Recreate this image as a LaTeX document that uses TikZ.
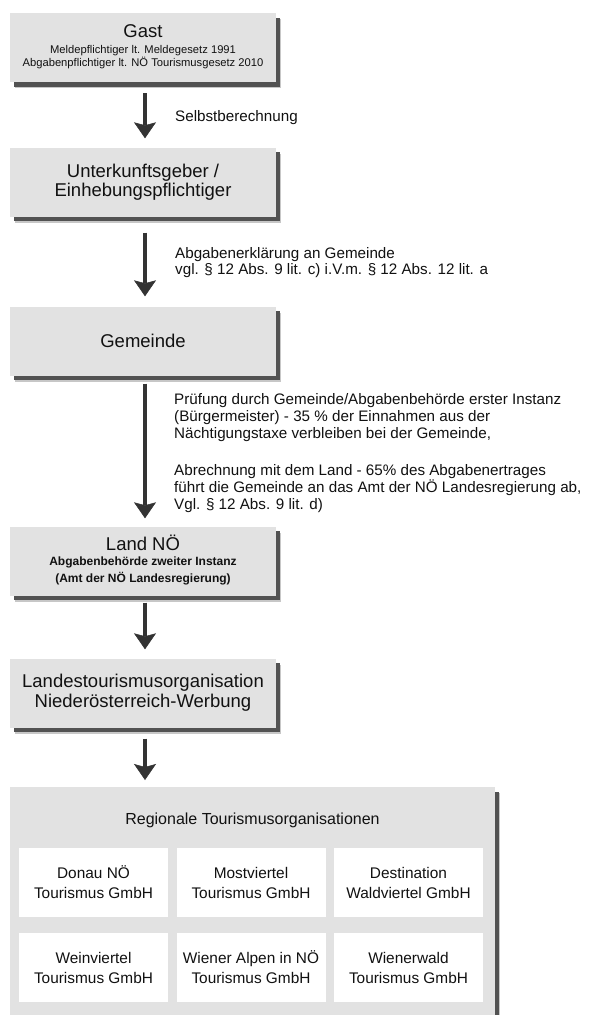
\documentclass[tikz,border=0pt]{standalone}
\usepackage{fontspec}
\setmainfont{Liberation Sans}
\usetikzlibrary{arrows.meta,shadows}
\definecolor{boxgray}{HTML}{E2E2E2}
\definecolor{arrowgray}{HTML}{333333}
\definecolor{txt}{HTML}{111111}
\begin{document}
\begin{tikzpicture}[x=1pt,y=-1pt,
  box/.style={rectangle, fill=boxgray, minimum width=266pt, minimum height=69pt,
    text width=266pt, inner sep=0pt, align=flush center, text=txt,
    general shadow={fill=black!22, shadow xshift=5pt, shadow yshift=-6pt},
    general shadow={fill=black!68, shadow xshift=4pt, shadow yshift=-4.5pt}},
  title/.style={font=\fontsize{18.5}{19.5}\selectfont},
  flow/.style={draw=arrowgray, line width=4pt,
    -{Stealth[length=16pt,width=22pt,inset=3pt,line width=0.5pt]}},
  lab/.style={anchor=base west, inner sep=0pt, text=txt, font=\fontsize{15.2}{17}\selectfont},
  rto/.style={rectangle, fill=white, minimum width=149pt, minimum height=69pt,
    text width=149pt, inner sep=0pt, align=flush center, text=txt,
    font=\fontsize{15.4}{20}\selectfont}
]
\useasboundingbox (0,0) rectangle (596,1015);
\clip (0,0) rectangle (596,1015);
\fill[white] (0,0) rectangle (596,1015);

% main boxes
\node[box,title] (gast) at (143,47.5) {Gast\\[-3.9pt]{\fontsize{11.2}{12.7}\selectfont\begin{tabular}[t]{@{}c@{}}Meldepflichtiger lt. Meldegesetz 1991\\Abgabenpflichtiger lt. NÖ Tourismusgesetz 2010\end{tabular}}};
\node[box,title] (unter) at (143,182) {Unterkunftsgeber /\\Einhebungspflichtiger};
\node[box,title] (gem) at (143,341) {Gemeinde};
\node[box,title] (land) at (143,561) {Land NÖ\\[-4.5pt]{\fontsize{12}{16.6}\selectfont\bfseries\begin{tabular}[t]{@{}c@{}}Abgabenbehörde zweiter Instanz\\(Amt der NÖ Landesregierung)\end{tabular}}};
\node[box,font=\fontsize{18.5}{20}\selectfont] (lto) at (143,693) {Landestourismusorganisation\\ Niederösterreich-Werbung};

% regional container
\node[box, minimum width=485pt, text width=485pt, minimum height=240pt, anchor=north] (reg) at (252.5,787) {};
\node[inner sep=0pt, text=txt, font=\fontsize{16}{18}\selectfont] (regt) at (252.5,820) {Regionale Tourismusorganisationen};
\node[rto] (r1) at (93.5,882.5) {Donau NÖ\\Tourismus GmbH};
\node[rto] (r2) at (251,882.5) {Mostviertel\\Tourismus GmbH};
\node[rto] (r3) at (408.5,882.5) {Destination\\Waldviertel GmbH};
\node[rto] (r4) at (93.5,967.5) {Weinviertel\\Tourismus GmbH};
\node[rto] (r5) at (251,967.5) {Wiener Alpen in NÖ\\Tourismus GmbH};
\node[rto] (r6) at (408.5,967.5) {Wienerwald\\Tourismus GmbH};

% arrows
\draw[flow, shorten <=11pt, shorten >=9pt] ([xshift=2pt]gast.south) -- ([xshift=2pt]unter.north);
\draw[flow, shorten <=16pt, shorten >=10pt] ([xshift=2pt]unter.south) -- ([xshift=2pt]gem.north);
\draw[flow, shorten <=8pt, shorten >=8pt] ([xshift=2pt]gem.south) -- ([xshift=2pt]land.north);
\draw[flow, shorten <=7pt, shorten >=9pt] ([xshift=2pt]land.south) -- ([xshift=2pt]lto.north);
\coordinate (a5end) at (lto.south |- reg.north);
\draw[flow, shorten <=11pt, shorten >=7pt] ([xshift=2pt]lto.south) -- ([xshift=2pt]a5end);

% labels
\node[lab] (l1) at (175,121.5) {Selbstberechnung};
\node[lab] (l2a) at (175,258.3) {Abgabenerklärung an Gemeinde};
\node[lab] (l2b) at (175,274.3) {vgl. § 12 Abs. 9 lit. c) i.V.m. § 12 Abs. 12 lit. a};
\node[lab] (l3a) at (174,404) {Prüfung durch Gemeinde/Abgabenbehörde erster Instanz};
\node[lab] (l3b) at (174,421.3) {(Bürgermeister) - 35 \% der Einnahmen aus der};
\node[lab] (l3c) at (174,438.6) {Nächtigungstaxe verbleiben  bei der Gemeinde,};
\node[lab] (l3d) at (174,475) {Abrechnung mit dem Land  -  65\% des Abgabenertrages};
\node[lab] (l3e) at (174,492.3) {führt  die Gemeinde an das Amt der NÖ Landesregierung ab,};
\node[lab] (l3f) at (174,509.6) {Vgl. § 12 Abs. 9 lit. d)};
\end{tikzpicture}
\end{document}
